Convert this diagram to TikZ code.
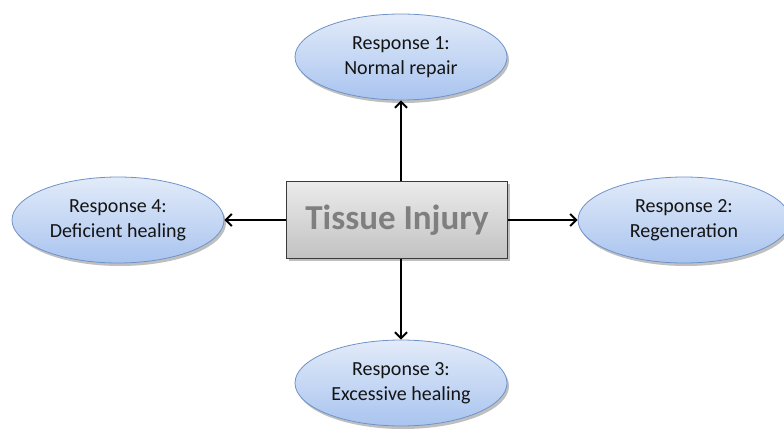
\documentclass[tikz,border=0pt]{standalone}
\usepackage{fontspec}
\setmainfont{Carlito}
\usetikzlibrary{shapes.geometric,shadows,arrows.meta}
\definecolor{ellfillTop}{HTML}{E2EBF9}
\definecolor{ellfillBot}{HTML}{A9C4EF}
\definecolor{ellline}{HTML}{6F93C8}
\definecolor{boxTop}{HTML}{EBEBEB}
\definecolor{boxBot}{HTML}{C2C2C2}
\definecolor{boxline}{HTML}{3A3A3A}
\definecolor{titlegray}{HTML}{7F7F7F}
\definecolor{ellText}{HTML}{141414}
\tikzset{
  resp/.style={ellipse, draw=ellline, line width=0.8pt, top color=ellfillTop, bottom color=ellfillBot,
    minimum width=212pt, minimum height=86pt, inner sep=0pt, align=center, text=ellText,
    font=\fontsize{20}{25}\selectfont,
    drop shadow={shadow xshift=2pt, shadow yshift=-3pt, opacity=0.25, fill=black}},
  injury/.style={rectangle, draw=boxline, line width=1pt, top color=boxTop, bottom color=boxBot,
    minimum width=221pt, minimum height=77pt, inner sep=0pt, text=titlegray,
    font=\fontsize{35}{40}\selectfont\bfseries,
    drop shadow={shadow xshift=2pt, shadow yshift=-2pt, opacity=0.25, fill=black}},
  arr/.style={draw=black, line width=2pt, -{Straight Barb[length=6pt,width=12pt]}}
}
\begin{document}
\begin{tikzpicture}[x=1pt,y=-1pt]
\useasboundingbox (0,0) rectangle (784,434);
\node[injury] (box) at (397,220) {Tissue Injury};
\node[resp] (r1) at (401,57) {Response 1:\\Normal repair};
\node[resp] (r2) at (684,220) {Response 2:\\Regeneration};
\node[resp] (r3) at (401,383) {Response 3:\\Excessive healing};
\node[resp] (r4) at (118,220) {Response 4:\\Deficient healing};
\draw[arr] (r1.south |- box.north) -- (r1.south);
\draw[arr] (r3.north |- box.south) -- (r3.north);
\draw[arr] (box.east) -- (r2.west);
\draw[arr] (box.west) -- (r4.east);
\end{tikzpicture}
\end{document}
